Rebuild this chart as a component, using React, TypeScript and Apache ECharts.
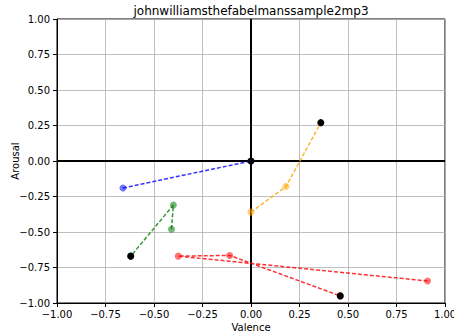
import React, { useEffect, useRef } from 'react';
import * as echarts from 'echarts';

const chartTitle = 'johnwilliamsthefabelmanssample2mp3';
const xName = 'Valence';
const yName = 'Arousal';

const blueX = [-0.66, 0.0];
const blueY = [-0.19, 0.0];
const orangeX = [0.0, 0.18, 0.36];
const orangeY = [-0.36, -0.18, 0.27];
const greenX = [-0.41, -0.4, -0.62];
const greenY = [-0.48, -0.31, -0.67];
const redX = [0.91, -0.375, -0.11, 0.46];
const redY = [-0.845, -0.67, -0.665, -0.95];

const groups = [
  { name: 'blue', color: '#0000ff', xs: blueX, ys: blueY },
  { name: 'orange', color: '#ffa500', xs: orangeX, ys: orangeY },
  { name: 'green', color: '#008000', xs: greenX, ys: greenY },
  { name: 'red', color: '#ff0000', xs: redX, ys: redY },
];

const FONT = 'DejaVu Sans';
const fmt = (v: number) => v.toFixed(2).replace('-', '\u2212');

export default function App() {
  const ref = useRef<HTMLDivElement>(null);
  useEffect(() => {
    if (!ref.current) return;
    const chart = echarts.init(ref.current, undefined, { renderer: 'svg' });
    const series: any[] = [];
    groups.forEach((g, gi) => {
      const pts = g.xs.map((x, i) => [x, g.ys[i]]);
      series.push({
        type: 'line',
        name: g.name + '-line',
        data: pts,
        showSymbol: false,
        symbol: 'none',
        lineStyle: { color: g.color, width: 1.5, type: [4, 2], opacity: 0.8 },
        z: 3,
        ...(gi === 0
          ? {
              markLine: {
                silent: true,
                symbol: 'none',
                label: { show: false },
                lineStyle: { color: '#000', width: 2, type: 'solid' },
                data: [{ xAxis: 0 }, { yAxis: 0 }],
                z: 2,
              },
            }
          : {}),
      });
      series.push({
        type: 'scatter',
        name: g.name + '-pts',
        data: pts,
        symbolSize: 7,
        itemStyle: { color: g.color, opacity: 0.55 },
        z: 4,
      });
      series.push({
        type: 'scatter',
        name: g.name + '-end',
        data: [pts[pts.length - 1]],
        symbolSize: 7,
        itemStyle: { color: '#000', opacity: 1 },
        z: 5,
      });
    });

    const axisCommon = {
      type: 'value',
      min: -1,
      max: 1,
      interval: 0.25,
      nameLocation: 'middle',
      nameMoveOverlap: false,
      nameTextStyle: { fontFamily: FONT, fontSize: 10, color: '#000' },
      axisLine: { show: true, onZero: false, lineStyle: { color: '#000', width: 1 } },
      axisTick: { show: true, length: 4, lineStyle: { color: '#000' } },
      axisLabel: { fontFamily: FONT, fontSize: 10, color: '#000', formatter: fmt },
      splitLine: { show: true, lineStyle: { color: '#b0b0b0', width: 0.8 } },
    };

    chart.setOption({
      animation: false,
      backgroundColor: '#fff',
      graphic: [
        {
          type: 'text',
          x: 251,
          y: 11,
          style: {
            text: chartTitle,
            align: 'center',
            verticalAlign: 'middle',
            fontFamily: FONT,
            fontSize: 12,
            fill: '#000',
          },
        },
      ],
      grid: {
        left: 57,
        right: 9,
        top: 19,
        bottom: 28,
        outerBoundsMode: 'none',
        containLabel: false,
        show: true,
        borderColor: '#000',
        borderWidth: 1,
        backgroundColor: 'transparent',
      },
      xAxis: { ...axisCommon, name: xName, nameGap: 19, axisLabel: { ...axisCommon.axisLabel, margin: 6 } },
      yAxis: { ...axisCommon, name: yName, nameGap: 37, axisLabel: { ...axisCommon.axisLabel, margin: 7 } },
      series,
    });
    return () => chart.dispose();
  }, []);
  return (
    <div
      ref={ref}
      style={{ position: 'fixed', left: 0, top: 0, width: 454, height: 331, background: '#fff' }}
    />
  );
}
